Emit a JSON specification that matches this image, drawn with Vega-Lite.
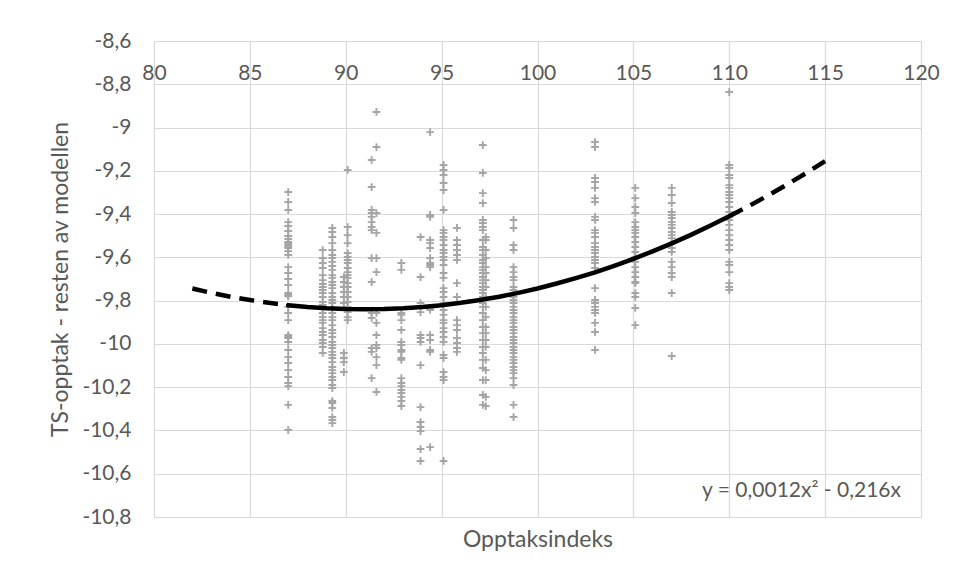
{
  "$schema": "https://vega.github.io/schema/vega-lite/v6.json",
  "width": 767,
  "height": 476,
  "autosize": {"type": "none"},
  "padding": {"left": 154, "top": 41, "right": 37, "bottom": 62},
  "background": "white",
  "config": {
    "font": "Lato",
    "view": {"stroke": "#d9d9d9", "strokeWidth": 1},
    "locale": {"number": {"decimal": ",", "thousands": " ", "grouping": [3], "currency": ["", ""], "minus": "-"}},
    "axis": {
      "domain": false,
      "ticks": false,
      "grid": true,
      "gridColor": "#d9d9d9",
      "gridWidth": 1.2,
      "labelColor": "#595959",
      "titleColor": "#595959",
      "labelFont": "Lato",
      "titleFont": "Lato",
      "labelFontSize": 21,
      "titleFontSize": 23,
      "titleFontWeight": "normal",
      "labelFlush": false,
      "labelOverlap": false
    }
  },
  "datasets": {
    "pts": [
      {"x":87,"y":-9.298},{"x":87,"y":-9.344},{"x":87,"y":-9.381},{"x":87,"y":-9.437},{"x":87,"y":-9.455},{"x":87,"y":-9.478},{"x":87,"y":-9.501},{"x":87,"y":-9.515},{"x":87,"y":-9.529},{"x":87,"y":-9.535},{"x":87,"y":-9.543},{"x":87,"y":-9.55},{"x":87,"y":-9.557},{"x":87,"y":-9.571},{"x":87,"y":-9.589},{"x":87,"y":-9.645},{"x":87,"y":-9.672},{"x":87,"y":-9.7},{"x":87,"y":-9.728},{"x":87,"y":-9.765},{"x":87,"y":-9.774},{"x":87,"y":-9.78},{"x":87,"y":-9.829},{"x":87,"y":-9.857},{"x":87,"y":-9.89},{"x":87,"y":-9.959},{"x":87,"y":-9.965},{"x":87,"y":-9.973},{"x":87,"y":-9.991},{"x":87,"y":-10.028},{"x":87,"y":-10.061},{"x":87,"y":-10.088},{"x":87,"y":-10.121},{"x":87,"y":-10.153},{"x":87,"y":-10.181},{"x":87,"y":-10.195},{"x":87,"y":-10.282},{"x":87,"y":-10.398},
      {"x":88.8,"y":-9.566},{"x":88.8,"y":-9.603},{"x":88.8,"y":-9.626},{"x":88.8,"y":-9.649},{"x":88.8,"y":-9.682},{"x":88.8,"y":-9.705},{"x":88.8,"y":-9.723},{"x":88.8,"y":-9.737},{"x":88.8,"y":-9.751},{"x":88.8,"y":-9.765},{"x":88.8,"y":-9.783},{"x":88.8,"y":-9.806},{"x":88.8,"y":-9.82},{"x":88.8,"y":-9.834},{"x":88.8,"y":-9.857},{"x":88.8,"y":-9.876},{"x":88.8,"y":-9.89},{"x":88.8,"y":-9.903},{"x":88.8,"y":-9.927},{"x":88.8,"y":-9.945},{"x":88.8,"y":-9.959},{"x":88.8,"y":-9.982},{"x":88.8,"y":-9.996},{"x":88.8,"y":-10.014},{"x":88.8,"y":-10.042},
      {"x":89.3,"y":-9.464},{"x":89.3,"y":-9.483},{"x":89.3,"y":-9.506},{"x":89.3,"y":-9.534},{"x":89.3,"y":-9.566},{"x":89.3,"y":-9.589},{"x":89.3,"y":-9.603},{"x":89.3,"y":-9.621},{"x":89.3,"y":-9.64},{"x":89.3,"y":-9.658},{"x":89.3,"y":-9.682},{"x":89.3,"y":-9.695},{"x":89.3,"y":-9.714},{"x":89.3,"y":-9.728},{"x":89.3,"y":-9.742},{"x":89.3,"y":-9.765},{"x":89.3,"y":-9.783},{"x":89.3,"y":-9.797},{"x":89.3,"y":-9.811},{"x":89.3,"y":-9.834},{"x":89.3,"y":-9.857},{"x":89.3,"y":-9.876},{"x":89.3,"y":-9.89},{"x":89.3,"y":-9.913},{"x":89.3,"y":-9.936},{"x":89.3,"y":-9.95},{"x":89.3,"y":-9.968},{"x":89.3,"y":-9.991},{"x":89.3,"y":-10.005},{"x":89.3,"y":-10.019},{"x":89.3,"y":-10.037},{"x":89.3,"y":-10.051},{"x":89.3,"y":-10.065},{"x":89.3,"y":-10.084},{"x":89.3,"y":-10.107},{"x":89.3,"y":-10.121},{"x":89.3,"y":-10.135},{"x":89.3,"y":-10.153},{"x":89.3,"y":-10.167},{"x":89.3,"y":-10.19},{"x":89.3,"y":-10.204},{"x":89.3,"y":-10.264},{"x":89.3,"y":-10.273},{"x":89.3,"y":-10.296},{"x":89.3,"y":-10.338},{"x":89.3,"y":-10.352},{"x":89.3,"y":-10.366},
      {"x":89.9,"y":-9.691},{"x":89.9,"y":-9.714},{"x":89.9,"y":-9.737},{"x":89.9,"y":-9.76},{"x":89.9,"y":-9.783},{"x":89.9,"y":-9.811},{"x":89.9,"y":-10.042},{"x":89.9,"y":-10.065},{"x":89.9,"y":-10.084},{"x":89.9,"y":-10.13},
      {"x":90.1,"y":-9.196},{"x":90.1,"y":-9.46},{"x":90.1,"y":-9.497},{"x":90.1,"y":-9.534},{"x":90.1,"y":-9.58},{"x":90.1,"y":-9.598},{"x":90.1,"y":-9.612},{"x":90.1,"y":-9.626},{"x":90.1,"y":-9.649},{"x":90.1,"y":-9.668},{"x":90.1,"y":-9.682},{"x":90.1,"y":-9.695},{"x":90.1,"y":-9.719},{"x":90.1,"y":-9.737},{"x":90.1,"y":-9.76},{"x":90.1,"y":-9.783},{"x":90.1,"y":-9.806},{"x":90.1,"y":-9.829},{"x":90.1,"y":-9.853},{"x":90.1,"y":-9.876},{"x":90.1,"y":-9.89},
      {"x":91.35,"y":-9.15},{"x":91.35,"y":-9.275},{"x":91.35,"y":-9.381},{"x":91.35,"y":-9.395},{"x":91.35,"y":-9.413},{"x":91.35,"y":-9.437},{"x":91.35,"y":-9.46},{"x":91.35,"y":-9.474},{"x":91.35,"y":-9.603},{"x":91.35,"y":-9.714},{"x":91.35,"y":-9.857},{"x":91.35,"y":-9.88},{"x":91.35,"y":-10.019},{"x":91.35,"y":-10.037},{"x":91.35,"y":-10.158},
      {"x":91.6,"y":-8.928},{"x":91.6,"y":-9.09},{"x":91.6,"y":-9.395},{"x":91.6,"y":-9.487},{"x":91.6,"y":-9.603},{"x":91.6,"y":-9.668},{"x":91.6,"y":-9.857},{"x":91.6,"y":-9.903},{"x":91.6,"y":-9.959},{"x":91.6,"y":-10.005},{"x":91.6,"y":-10.019},{"x":91.6,"y":-10.061},{"x":91.6,"y":-10.098},{"x":91.6,"y":-10.222},
      {"x":92.9,"y":-9.626},{"x":92.9,"y":-9.658},{"x":92.9,"y":-9.857},{"x":92.9,"y":-9.866},{"x":92.9,"y":-9.89},{"x":92.9,"y":-9.936},{"x":92.9,"y":-9.991},{"x":92.9,"y":-10.005},{"x":92.9,"y":-10.028},{"x":92.9,"y":-10.037},{"x":92.9,"y":-10.065},{"x":92.9,"y":-10.074},{"x":92.9,"y":-10.158},{"x":92.9,"y":-10.181},{"x":92.9,"y":-10.195},{"x":92.9,"y":-10.213},{"x":92.9,"y":-10.227},{"x":92.9,"y":-10.245},{"x":92.9,"y":-10.264},{"x":92.9,"y":-10.287},
      {"x":93.9,"y":-9.506},{"x":93.9,"y":-9.691},{"x":93.9,"y":-9.811},{"x":93.9,"y":-9.853},{"x":93.9,"y":-9.959},{"x":93.9,"y":-9.973},{"x":93.9,"y":-9.991},{"x":93.9,"y":-10.098},{"x":93.9,"y":-10.292},{"x":93.9,"y":-10.361},{"x":93.9,"y":-10.384},{"x":93.9,"y":-10.403},{"x":93.9,"y":-10.486},{"x":93.9,"y":-10.541},
      {"x":94.4,"y":-9.021},{"x":94.4,"y":-9.404},{"x":94.4,"y":-9.413},{"x":94.4,"y":-9.52},{"x":94.4,"y":-9.534},{"x":94.4,"y":-9.557},{"x":94.4,"y":-9.603},{"x":94.4,"y":-9.626},{"x":94.4,"y":-9.635},{"x":94.4,"y":-9.645},{"x":94.4,"y":-9.834},{"x":94.4,"y":-9.843},{"x":94.4,"y":-9.959},{"x":94.4,"y":-9.982},{"x":94.4,"y":-10.028},{"x":94.4,"y":-10.037},{"x":94.4,"y":-10.477},
      {"x":95.1,"y":-9.173},{"x":95.1,"y":-9.196},{"x":95.1,"y":-9.219},{"x":95.1,"y":-9.256},{"x":95.1,"y":-9.289},{"x":95.1,"y":-9.381},{"x":95.1,"y":-9.474},{"x":95.1,"y":-9.487},{"x":95.1,"y":-9.506},{"x":95.1,"y":-9.52},{"x":95.1,"y":-9.543},{"x":95.1,"y":-9.566},{"x":95.1,"y":-9.58},{"x":95.1,"y":-9.598},{"x":95.1,"y":-9.612},{"x":95.1,"y":-9.635},{"x":95.1,"y":-9.672},{"x":95.1,"y":-9.695},{"x":95.1,"y":-9.742},{"x":95.1,"y":-9.76},{"x":95.1,"y":-9.783},{"x":95.1,"y":-9.811},{"x":95.1,"y":-9.843},{"x":95.1,"y":-9.866},{"x":95.1,"y":-9.89},{"x":95.1,"y":-9.903},{"x":95.1,"y":-9.927},{"x":95.1,"y":-9.945},{"x":95.1,"y":-9.968},{"x":95.1,"y":-9.991},{"x":95.1,"y":-10.051},{"x":95.1,"y":-10.065},{"x":95.1,"y":-10.13},{"x":95.1,"y":-10.153},{"x":95.1,"y":-10.167},{"x":95.1,"y":-10.541},
      {"x":95.8,"y":-9.464},{"x":95.8,"y":-9.52},{"x":95.8,"y":-9.543},{"x":95.8,"y":-9.566},{"x":95.8,"y":-9.589},{"x":95.8,"y":-9.612},{"x":95.8,"y":-9.719},{"x":95.8,"y":-9.783},{"x":95.8,"y":-9.89},{"x":95.8,"y":-9.913},{"x":95.8,"y":-9.936},{"x":95.8,"y":-9.973},{"x":95.8,"y":-9.996},{"x":95.8,"y":-10.019},{"x":95.8,"y":-10.037},
      {"x":97.15,"y":-9.081},{"x":97.15,"y":-9.21},{"x":97.15,"y":-9.303},{"x":97.15,"y":-9.349},{"x":97.15,"y":-9.427},{"x":97.15,"y":-9.441},{"x":97.15,"y":-9.46},{"x":97.15,"y":-9.474},{"x":97.15,"y":-9.52},{"x":97.15,"y":-9.552},{"x":97.15,"y":-9.566},{"x":97.15,"y":-9.589},{"x":97.15,"y":-9.612},{"x":97.15,"y":-9.626},{"x":97.15,"y":-9.645},{"x":97.15,"y":-9.658},{"x":97.15,"y":-9.672},{"x":97.15,"y":-9.691},{"x":97.15,"y":-9.705},{"x":97.15,"y":-9.719},{"x":97.15,"y":-9.737},{"x":97.15,"y":-9.751},{"x":97.15,"y":-9.765},{"x":97.15,"y":-9.783},{"x":97.15,"y":-9.797},{"x":97.15,"y":-9.811},{"x":97.15,"y":-9.829},{"x":97.15,"y":-9.857},{"x":97.15,"y":-9.89},{"x":97.15,"y":-9.922},{"x":97.15,"y":-9.95},{"x":97.15,"y":-9.982},{"x":97.15,"y":-10.014},{"x":97.15,"y":-10.042},{"x":97.15,"y":-10.074},{"x":97.15,"y":-10.111},{"x":97.15,"y":-10.167},{"x":97.15,"y":-10.236},{"x":97.15,"y":-10.282},
      {"x":97.3,"y":-9.506},{"x":97.3,"y":-9.52},{"x":97.3,"y":-9.566},{"x":97.3,"y":-9.603},{"x":97.3,"y":-9.645},{"x":97.3,"y":-9.672},{"x":97.3,"y":-9.705},{"x":97.3,"y":-9.737},{"x":97.3,"y":-9.783},{"x":97.3,"y":-9.829},{"x":97.3,"y":-9.876},{"x":97.3,"y":-9.922},{"x":97.3,"y":-9.95},{"x":97.3,"y":-9.982},{"x":97.3,"y":-10.014},{"x":97.3,"y":-10.074},{"x":97.3,"y":-10.121},{"x":97.3,"y":-10.167},{"x":97.3,"y":-10.245},{"x":97.3,"y":-10.287},
      {"x":98.75,"y":-9.427},{"x":98.75,"y":-9.464},{"x":98.75,"y":-9.543},{"x":98.75,"y":-9.566},{"x":98.75,"y":-9.645},{"x":98.75,"y":-9.668},{"x":98.75,"y":-9.691},{"x":98.75,"y":-9.705},{"x":98.75,"y":-9.737},{"x":98.75,"y":-9.751},{"x":98.75,"y":-9.765},{"x":98.75,"y":-9.783},{"x":98.75,"y":-9.797},{"x":98.75,"y":-9.811},{"x":98.75,"y":-9.829},{"x":98.75,"y":-9.843},{"x":98.75,"y":-9.857},{"x":98.75,"y":-9.876},{"x":98.75,"y":-9.89},{"x":98.75,"y":-9.903},{"x":98.75,"y":-9.922},{"x":98.75,"y":-9.936},{"x":98.75,"y":-9.95},{"x":98.75,"y":-9.968},{"x":98.75,"y":-9.982},{"x":98.75,"y":-9.996},{"x":98.75,"y":-10.014},{"x":98.75,"y":-10.028},{"x":98.75,"y":-10.042},{"x":98.75,"y":-10.061},{"x":98.75,"y":-10.074},{"x":98.75,"y":-10.088},{"x":98.75,"y":-10.107},{"x":98.75,"y":-10.121},{"x":98.75,"y":-10.135},{"x":98.75,"y":-10.158},{"x":98.75,"y":-10.19},{"x":98.75,"y":-10.282},{"x":98.75,"y":-10.338},
      {"x":103,"y":-9.067},{"x":103,"y":-9.09},{"x":103,"y":-9.233},{"x":103,"y":-9.252},{"x":103,"y":-9.279},{"x":103,"y":-9.326},{"x":103,"y":-9.344},{"x":103,"y":-9.413},{"x":103,"y":-9.427},{"x":103,"y":-9.474},{"x":103,"y":-9.487},{"x":103,"y":-9.506},{"x":103,"y":-9.534},{"x":103,"y":-9.552},{"x":103,"y":-9.566},{"x":103,"y":-9.58},{"x":103,"y":-9.598},{"x":103,"y":-9.612},{"x":103,"y":-9.626},{"x":103,"y":-9.649},{"x":103,"y":-9.742},{"x":103,"y":-9.797},{"x":103,"y":-9.811},{"x":103,"y":-9.829},{"x":103,"y":-9.843},{"x":103,"y":-9.857},{"x":103,"y":-9.903},{"x":103,"y":-9.945},{"x":103,"y":-10.028},
      {"x":105.1,"y":-9.279},{"x":105.1,"y":-9.326},{"x":105.1,"y":-9.367},{"x":105.1,"y":-9.395},{"x":105.1,"y":-9.437},{"x":105.1,"y":-9.46},{"x":105.1,"y":-9.474},{"x":105.1,"y":-9.487},{"x":105.1,"y":-9.506},{"x":105.1,"y":-9.529},{"x":105.1,"y":-9.552},{"x":105.1,"y":-9.575},{"x":105.1,"y":-9.598},{"x":105.1,"y":-9.621},{"x":105.1,"y":-9.645},{"x":105.1,"y":-9.668},{"x":105.1,"y":-9.691},{"x":105.1,"y":-9.714},{"x":105.1,"y":-9.719},{"x":105.1,"y":-9.765},{"x":105.1,"y":-9.783},{"x":105.1,"y":-9.834},{"x":105.1,"y":-9.913},
      {"x":107,"y":-9.279},{"x":107,"y":-9.312},{"x":107,"y":-9.349},{"x":107,"y":-9.39},{"x":107,"y":-9.404},{"x":107,"y":-9.418},{"x":107,"y":-9.437},{"x":107,"y":-9.45},{"x":107,"y":-9.464},{"x":107,"y":-9.483},{"x":107,"y":-9.497},{"x":107,"y":-9.511},{"x":107,"y":-9.534},{"x":107,"y":-9.557},{"x":107,"y":-9.575},{"x":107,"y":-9.621},{"x":107,"y":-9.645},{"x":107,"y":-9.672},{"x":107,"y":-9.691},{"x":107,"y":-9.765},{"x":107,"y":-10.056},
      {"x":110,"y":-8.836},{"x":110,"y":-9.173},{"x":110,"y":-9.187},{"x":110,"y":-9.219},{"x":110,"y":-9.233},{"x":110,"y":-9.266},{"x":110,"y":-9.279},{"x":110,"y":-9.298},{"x":110,"y":-9.312},{"x":110,"y":-9.326},{"x":110,"y":-9.344},{"x":110,"y":-9.367},{"x":110,"y":-9.39},{"x":110,"y":-9.413},{"x":110,"y":-9.427},{"x":110,"y":-9.45},{"x":110,"y":-9.474},{"x":110,"y":-9.497},{"x":110,"y":-9.52},{"x":110,"y":-9.543},{"x":110,"y":-9.566},{"x":110,"y":-9.621},{"x":110,"y":-9.635},{"x":110,"y":-9.668},{"x":110,"y":-9.719},{"x":110,"y":-9.737},{"x":110,"y":-9.751}
    ],
    "trend": [
      {"x":82,"y":-9.744,"seg":"a"},{"x":83,"y":-9.764,"seg":"a"},{"x":84,"y":-9.782,"seg":"a"},{"x":85,"y":-9.797,"seg":"a"},{"x":86,"y":-9.81,"seg":"a"},{"x":87,"y":-9.821,"seg":"a"},
      {"x":87,"y":-9.821,"seg":"solid"},{"x":88,"y":-9.829,"seg":"solid"},{"x":89,"y":-9.835,"seg":"solid"},{"x":90,"y":-9.839,"seg":"solid"},{"x":91,"y":-9.84,"seg":"solid"},{"x":92,"y":-9.839,"seg":"solid"},{"x":93,"y":-9.835,"seg":"solid"},{"x":94,"y":-9.829,"seg":"solid"},{"x":95,"y":-9.821,"seg":"solid"},{"x":96,"y":-9.81,"seg":"solid"},{"x":97,"y":-9.797,"seg":"solid"},{"x":98,"y":-9.782,"seg":"solid"},{"x":99,"y":-9.764,"seg":"solid"},{"x":100,"y":-9.744,"seg":"solid"},{"x":101,"y":-9.721,"seg":"solid"},{"x":102,"y":-9.696,"seg":"solid"},{"x":103,"y":-9.669,"seg":"solid"},{"x":104,"y":-9.639,"seg":"solid"},{"x":105,"y":-9.607,"seg":"solid"},{"x":106,"y":-9.572,"seg":"solid"},{"x":107,"y":-9.535,"seg":"solid"},{"x":108,"y":-9.496,"seg":"solid"},{"x":109,"y":-9.454,"seg":"solid"},{"x":110,"y":-9.41,"seg":"solid"},
      {"x":110,"y":-9.41,"seg":"b"},{"x":111,"y":-9.364,"seg":"b"},{"x":112,"y":-9.315,"seg":"b"},{"x":113,"y":-9.264,"seg":"b"},{"x":114,"y":-9.211,"seg":"b"},{"x":115,"y":-9.155,"seg":"b"}
    ]
  },
  "layer": [
    {
      "data": {"name": "pts"},
      "mark": {"type": "point", "shape": "M-1,0L1,0M0,-1L0,1", "filled": false, "color": "#a5a5a5", "strokeWidth": 1.9, "size": 60, "opacity": 1},
      "encoding": {
        "x": {
          "field": "x", "type": "quantitative",
          "scale": {"domain": [80, 120], "nice": false, "zero": false},
          "axis": {
            "orient": "top",
            "values": [80, 85, 90, 95, 100, 105, 110, 115, 120],
            "format": "d",
            "labelBaseline": "alphabetic",
            "labelPadding": -38,
            "title": "Opptaksindeks",
            "titleBaseline": "alphabetic",
            "titleAlign": "center",
            "titleX": 383.5,
            "titleY": 505.7
          }
        },
        "y": {
          "field": "y", "type": "quantitative",
          "scale": {"domain": [-10.8, -8.6], "nice": false, "zero": false},
          "axis": {
            "values": [-8.6, -8.8, -9, -9.2, -9.4, -9.6, -9.8, -10, -10.2, -10.4, -10.6, -10.8],
            "format": ".1~f",
            "labelPadding": 23,
            "labelBaseline": "middle",
            "title": "TS-opptak - resten av modellen",
            "titleAngle": -90,
            "titleBaseline": "alphabetic",
            "titleAlign": "center",
            "titleX": -87,
            "titleY": 238
          }
        }
      }
    },
    {
      "data": {"name": "trend"},
      "transform": [{"filter": "datum.seg == 'solid'"}],
      "mark": {"type": "line", "color": "#000000", "strokeWidth": 4.5, "strokeCap": "round"},
      "encoding": {
        "x": {"field": "x", "type": "quantitative"},
        "y": {"field": "y", "type": "quantitative"}
      }
    },
    {
      "data": {"name": "trend"},
      "transform": [{"filter": "datum.seg != 'solid'"}],
      "mark": {"type": "line", "color": "#000000", "strokeWidth": 4.5, "strokeDash": [15, 9]},
      "encoding": {
        "x": {"field": "x", "type": "quantitative"},
        "y": {"field": "y", "type": "quantitative"},
        "detail": {"field": "seg"}
      }
    },
    {
      "data": {"values": [{"label": "y = 0,0012x² - 0,216x"}]},
      "mark": {"type": "text", "align": "right", "baseline": "alphabetic", "dx": -20, "font": "Lato", "fontSize": 21, "color": "#595959"},
      "encoding": {
        "x": {"datum": 120, "type": "quantitative"},
        "y": {"datum": -10.708, "type": "quantitative"},
        "text": {"field": "label"}
      }
    }
  ]
}
